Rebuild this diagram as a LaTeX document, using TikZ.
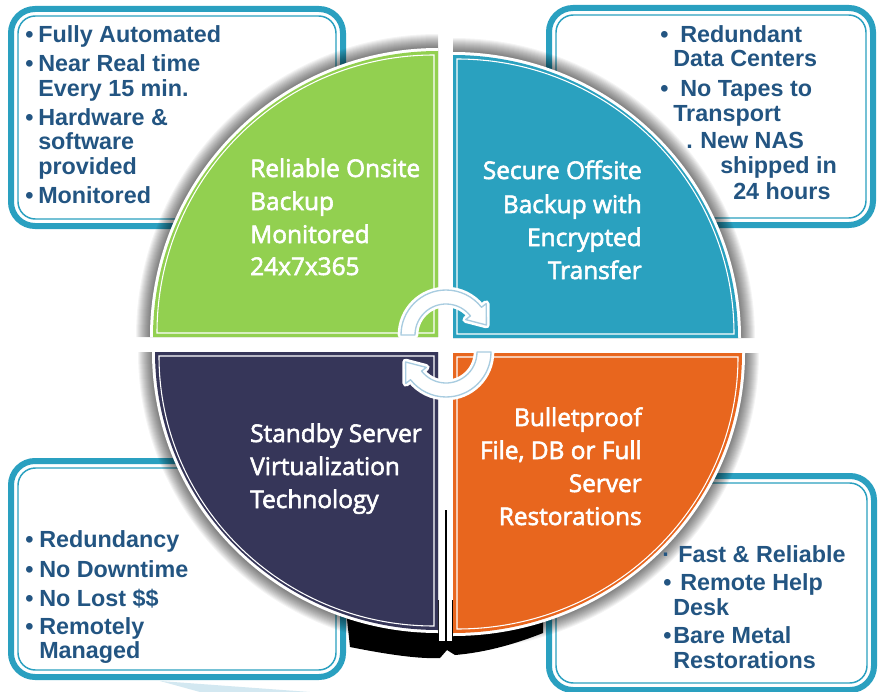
\documentclass[tikz,border=0pt]{standalone}
\usepackage{fontspec}
\setmainfont{Open Sans}
\newfontfamily\qfont{Open Sans}
\newfontfamily\boxfont{Liberation Sans}
\newcommand\heavytext[1]{\special{pdf:code 2 Tr 0.45 w}#1\special{pdf:code 0 Tr}}
\usetikzlibrary{calc}
\definecolor{qgreen}{HTML}{92D050}
\definecolor{qblue}{HTML}{2AA1BF}
\definecolor{qdark}{HTML}{363659}
\definecolor{qorange}{HTML}{E8661E}
\definecolor{boxteal}{HTML}{2AA0C0}
\definecolor{txtblue}{HTML}{235582}
\definecolor{arrowblue}{HTML}{A8CCE0}
\definecolor{swooshblue}{HTML}{D3E8F1}
\begin{document}
\begin{tikzpicture}[x=0.75pt,y=-0.75pt,
  boxouter/.style={draw=boxteal, line width=4.5pt, rounded corners=18pt, fill=white},
  boxinner/.style={draw=boxteal, line width=1.1pt, rounded corners=13pt},
  btxt/.style={font=\boxfont\bfseries\fontsize{17.5}{20}\selectfont, text=txtblue, inner sep=0pt, anchor=base west},
  qtxt/.style={font=\qfont\fontsize{18.3}{22}\selectfont, text=white, inner sep=0pt},
  qtl/.style={qtxt, anchor=base west},
  qtr/.style={qtxt, anchor=base east},
  cyclearrow/.style={draw=arrowblue, line width=1pt, fill=white, line join=round, preaction={draw=white, line width=5pt, line join=round}}
]
\useasboundingbox (0,0) rectangle (878,692);
\fill[white] (0,0) rectangle (878,692);

% corner boxes
\draw[boxouter] (11,9) rectangle (343,226);
\draw[boxinner] (18,16) rectangle (336,219);
\draw[boxouter] (549,8) rectangle (873,225);
\draw[boxinner] (556,15) rectangle (866,218);
\draw[boxouter] (11,461) rectangle (343,677);
\draw[boxinner] (18,468) rectangle (336,670);
\draw[boxouter] (549,476) rectangle (874,690);
\draw[boxinner] (556,483) rectangle (867,683);

% swoosh
\fill[swooshblue] (160,681) -- (310,692) -- (200,692) -- cycle;

% black shadow below the disc
\fill[black] (345,600) -- (350,647) .. controls (390,655) and (420,659) .. (440,658) -- (447,650) -- (455,655) .. controls (490,652) and (520,642) .. (543,633) -- (543,600) -- cycle;

% soft grey shadows
\foreach \cx/\cy/\sa/\rx/\ry in {438/337/180/285/286, 453/338/270/285/283, 438/352/90/283/278, 453/353/0/289/280}{
  \foreach \i in {1,...,14}{
    \pgfmathsetmacro\ax{\rx+3+\i}
    \pgfmathsetmacro\ay{\ry+3+\i}
    \fill[black,opacity=0.042] (\cx,\cy) -- ++({\sa}:{\ax} and {\ay}) arc[start angle=\sa, delta angle=90, x radius=\ax, y radius=\ay] -- cycle;
  }
}
% white gap between the bottom quadrants, with its thin dark line
\fill[white] (439,590) rectangle (452,641);
\draw[black, line width=1.1pt] (446,510) -- (446,645);

% quadrants
\foreach \cx/\cy/\sa/\rx/\ry/\col in {438/337/180/285/286/qgreen, 453/338/270/285/283/qblue, 438/352/90/283/278/qdark, 453/353/0/289/280/qorange}{
  \pgfmathsetmacro\hx{\rx+3}
  \pgfmathsetmacro\hy{\ry+3}
  \fill[white] (\cx,\cy) -- ++({\sa}:{\hx} and {\hy}) arc[start angle=\sa, delta angle=90, x radius=\hx, y radius=\hy] -- cycle;
  \fill[\col] (\cx,\cy) -- ++({\sa}:{\rx} and {\ry}) arc[start angle=\sa, delta angle=90, x radius=\rx, y radius=\ry] -- cycle;
  \pgfmathsetmacro\ix{\rx-8}
  \pgfmathsetmacro\iy{\ry-8}
  \pgfmathsetmacro\da{\sa+45}
  \draw[white, line width=0.8pt] ($(\cx,\cy)+({\da}:5.66)$) -- ++({\sa}:{\ix} and {\iy}) arc[start angle=\sa, delta angle=90, x radius=\ix, y radius=\iy] -- cycle;
}

% quadrant texts
\node[qtl] (g1) at (250,177) {\heavytext{Reliable Onsite}};
\node[qtl] (g2) at (250,210) {\heavytext{Backup}};
\node[qtl] (g3) at (250,243) {\heavytext{Monitored}};
\node[qtl] (g4) at (250,275) {\heavytext{24x7x365}};

\node[qtr] (b1) at (642,179) {\heavytext{Secure Offsite}};
\node[qtr] (b2) at (642,213) {\heavytext{Backup with}};
\node[qtr] (b3) at (642,246) {\heavytext{Encrypted}};
\node[qtr] (b4) at (642,279) {\heavytext{Transfer}};

\node[qtl] (d1) at (250,442) {\heavytext{Standby Server}};
\node[qtl] (d2) at (250,475) {\heavytext{Virtualization}};
\node[qtl] (d3) at (250,508) {\heavytext{Technology}};

\node[qtr] (o1) at (642,426) {\heavytext{Bulletproof}};
\node[qtr] (o2) at (642,459) {\heavytext{File, DB or Full}};
\node[qtr] (o3) at (642,492) {\heavytext{Server}};
\node[qtr] (o4) at (642,525) {\heavytext{Restorations}};

% top-left box text
\node[btxt] (tlb1) at (25,43) {•};
\node[btxt] (tl1) at (38,43) {Fully Automated};
\node[btxt] (tlb2) at (25,72) {•};
\node[btxt] (tl2) at (38,72) {Near Real time};
\node[btxt] (tl3) at (38,97) {Every 15 min.};
\node[btxt] (tlb4) at (25,125) {•};
\node[btxt] (tl4) at (38,125) {Hardware \&};
\node[btxt] (tl5) at (38,149) {software};
\node[btxt] (tl6) at (38,174) {provided};
\node[btxt] (tlb7) at (25,203) {•};
\node[btxt] (tl7) at (38,203) {Monitored};

% top-right box text
\node[btxt] (trb1) at (660,43) {•};
\node[btxt] (tr1) at (680,43) {Redundant};
\node[btxt] (tr2) at (673,67) {Data Centers};
\node[btxt] (trb3) at (660,97) {•};
\node[btxt] (tr3) at (680,97) {No Tapes to};
\node[btxt] (tr4) at (673,121) {Transport};
\node[btxt] (trb5) at (686,148) {.};
\node[btxt] (tr5) at (700,148) {New NAS};
\node[btxt] (tr6) at (720,173) {shipped in};
\node[btxt] (tr7) at (733,199) {24 hours};

% bottom-left box text
\node[btxt] (blb1) at (25,547) {•};
\node[btxt] (bl1) at (39,547) {Redundancy};
\node[btxt] (blb2) at (25,577) {•};
\node[btxt] (bl2) at (39,577) {No Downtime};
\node[btxt] (blb3) at (25,606) {•};
\node[btxt] (bl3) at (39,606) {No Lost \$\$};
\node[btxt] (blb4) at (25,634) {•};
\node[btxt] (bl4) at (39,634) {Remotely};
\node[btxt] (bl5) at (39,658) {Managed};

% bottom-right box text
\node[btxt] (brb1) at (662,562) {·};
\node[btxt] (br1) at (678,562) {Fast \& Reliable};
\node[btxt] (brb2) at (663,590) {•};
\node[btxt] (br2) at (680,590) {Remote Help};
\node[btxt] (br3) at (673,615) {Desk};
\node[btxt] (brb4) at (663,643) {•};
\node[btxt] (br4) at (673,643) {Bare Metal};
\node[btxt] (br5) at (673,668) {Restorations};

% cycle arrows
\coordinate (ca) at (446,335);
\coordinate (cb) at (446,352);
\path[cyclearrow] ($(ca)+(180:45)$) arc[start angle=180, end angle=322, radius=45]
  -- ($(ca)+(322:51)$) -- ($(ca)+(322:38)+(52:17)$) -- ($(ca)+(322:25)$)
  -- ($(ca)+(322:31)$) arc[start angle=322, end angle=180, radius=31] -- cycle;
\path[cyclearrow] ($(cb)+(0:45)$) arc[start angle=0, end angle=142, radius=45]
  -- ($(cb)+(142:51)$) -- ($(cb)+(142:38)+(232:17)$) -- ($(cb)+(142:25)$)
  -- ($(cb)+(142:31)$) arc[start angle=142, end angle=0, radius=31] -- cycle;
\end{tikzpicture}
\end{document}
